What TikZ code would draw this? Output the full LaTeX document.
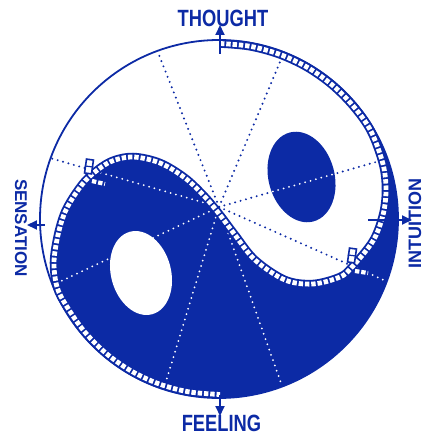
\documentclass[tikz,border=0pt]{standalone}
\usepackage{fontspec}
\setmainfont{Liberation Sans}
\newfontfamily\lfA[FakeStretch=0.78]{Liberation Sans}
\usetikzlibrary{arrows.meta}
\definecolor{jb}{RGB}{12,42,165}
\def\tapepath{plot[smooth,tension=0.55] coordinates {(1,175.5) (30.5,172.8) (60,164.9) (87.75,152) (112.8,134.4) (134.4,112.8) (152,87.75) (164,55) (167,29) (164,4) (154,-22) (133,-48) (121,-58) (94,-65) (66,-61) (36,-41) (16,-16) (1,4) (-14,22) (-34,41) (-59,56) (-86,62) (-109,57) (-130,42) (-143,26) (-154,7) (-161,-16) (-165,-43) (-162,-68) (-152,-87.75) (-134.4,-112.8) (-112.8,-134.4) (-87.75,-152) (-60,-164.9) (-30.5,-172.8) (1,-175.5)}}
\def\bluearea{\tapepath -- (0,-179) arc[start angle=-90, end angle=90, radius=179] -- cycle}
\begin{document}
\begin{tikzpicture}[x=1pt,y=1pt,
  tapeband/.style={draw=jb, line width=8.5pt},
  tapeholes/.style={draw=white, line width=4.8pt, dash pattern=on 4.4pt off 1.9pt},
  bluedots/.style={draw=jb, line width=2.2pt, line cap=round, dash pattern=on 0pt off 5.6pt},
  whitedots/.style={draw=white, line width=2pt, line cap=round, dash pattern=on 0pt off 5.6pt},
  axisarrow/.style={draw=jb, line width=1.8pt, -{Triangle[length=10pt,width=9pt]}},
  tabbox/.style={draw=jb, fill=white, line width=1.6pt, minimum width=7pt, minimum height=14pt, inner sep=0pt},
  lbl/.style={text=jb, inner sep=0pt, font=\lfA\bfseries\fontsize{23.5}{24}\selectfont},
  lblside/.style={text=jb, inner sep=0pt, font=\bfseries\fontsize{17}{18}\selectfont},
  lblsideb/.style={text=jb, inner sep=0pt, font=\bfseries\fontsize{18}{19}\selectfont},
]
\useasboundingbox (-219,-217) rectangle (207,219);
% regions
\fill[jb] \bluearea;
\fill[jb, rotate around={15:(82.5,42)}] (82.5,42) ellipse [x radius=33, y radius=46];
% rays
\coordinate (O) at (0,12);
\coordinate (rA) at (-60,164);
\coordinate (rB) at (61,157);
\coordinate (rC) at (157,57);
\coordinate (rD) at (-169,61);
\coordinate (rE) at (167,-62);
\coordinate (rF) at (-162,-64);
\coordinate (rG) at (-54,-166);
\coordinate (rH) at (62,-164);
\foreach \e in {rA,rB,rC,rD,rE,rF,rG,rH} \draw[bluedots] (O) -- (\e);
\begin{scope}
  \clip \bluearea;
  \foreach \e in {rA,rB,rC,rD,rE,rF,rG,rH} \draw[whitedots] (O) -- (\e);
\end{scope}
\begin{scope}
  \clip[rotate around={15:(82.5,42)}] (82.5,42) ellipse [x radius=33, y radius=46];
  \foreach \e in {rA,rB,rC,rD,rE,rF,rG,rH} \draw[whitedots] (O) -- (\e);
\end{scope}
\fill[white, rotate around={15:(-78,-54)}] (-78,-54) ellipse [x radius=30, y radius=42.7];
% outer circle
\draw[jb, line width=1.8pt] (0,0) circle [radius=179];
% tape
\draw[tapeband] \tapepath;
\draw[tapeholes] \tapepath;
% stubs and tabs at the hooks
\coordinate (sR1) at (136,-52);
\coordinate (sR2) at (149,-54);
\coordinate (sL1) at (-127,38);
\coordinate (sL2) at (-114,35);
\draw[tapeband, line width=7.5pt] (sR1) -- (sR2);
\draw[tapeholes, line width=4.2pt] (sR1) -- (sR2);
\draw[tapeband, line width=7.5pt] (sL1) -- (sL2);
\draw[tapeholes, line width=4.2pt] (sL1) -- (sL2);
\node[tabbox, rotate=-8] (tabR) at (133,-36.5) {};
\draw[jb, line width=1.2pt] (tabR.west) -- (tabR.east);
\node[tabbox, rotate=-8] (tabL) at (-130,52.5) {};
\draw[jb, line width=1.2pt] (tabL.west) -- (tabL.east);
% axis arrows
\coordinate (tT0) at (1,165);
\coordinate (tT1) at (1,194);
\coordinate (tF0) at (1,-175.5);
\coordinate (tF1) at (1,-197);
\coordinate (tS0) at (-174,-6);
\coordinate (tS1) at (-192,-6);
\coordinate (tI0) at (149,-1);
\coordinate (tI1) at (193,-1);
\draw[axisarrow] (tT0) -- (tT1);
\draw[axisarrow] (tF0) -- (tF1);
\draw[axisarrow] (tS0) -- (tS1);
\draw[axisarrow] (tI0) -- (tI1);
% labels
\node[lbl] (thought) at (4,201) {THOUGHT};
\node[lbl] (feeling) at (2.5,-204.5) {FEELING};
\node[lblside, rotate=-90] (sensation) at (-198,-9) {SENSATION};
\node[lblsideb, rotate=90] (intuition) at (196,-4.5) {INTUITION};
\end{tikzpicture}
\end{document}
